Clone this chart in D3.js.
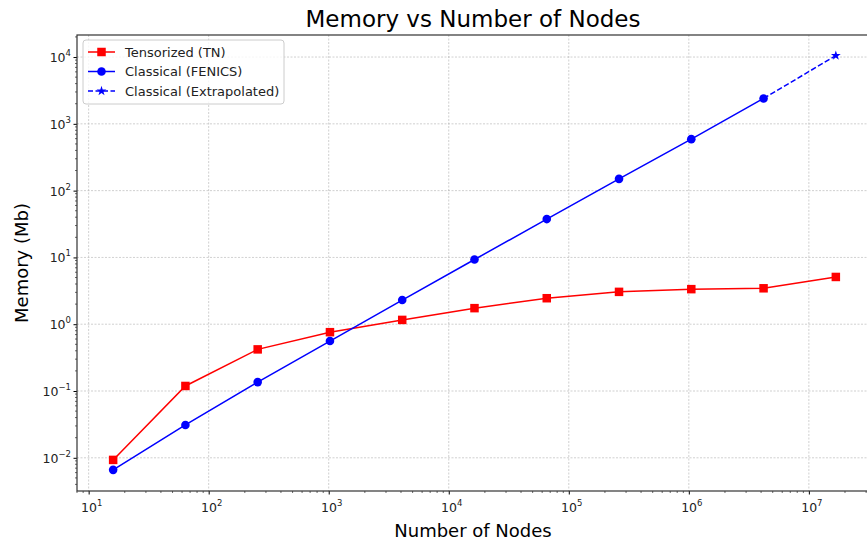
<!DOCTYPE html>
<html>
<head>
<meta charset="utf-8">
<script src="https://cdn.jsdelivr.net/npm/d3@7"></script>
<style>
  body { margin: 0; background: #fff; }
  svg { font-family: "DejaVu Sans", sans-serif; }
</style>
</head>
<body>
<div id="chart"></div>
<script>
// data
var nodes = [16, 64, 256, 1024, 4096, 16384, 65536, 262144, 1048576, 4194304, 16777216];
var tensorMem = [0.0093, 0.119, 0.42, 0.76, 1.16, 1.74, 2.45, 3.05, 3.35, 3.45, 5.1];
var classicalNodes = [16, 64, 256, 1024, 4096, 16384, 65536, 262144, 1048576, 4194304];
var classicalMem = [0.0066, 0.031, 0.136, 0.56, 2.3, 9.3, 37.5, 150, 590, 2400];
var extrapNodes = [4194304, 16777216];
var extrapMem = [2400, 10500];
var xTicks = [1e1, 1e2, 1e3, 1e4, 1e5, 1e6, 1e7];
var yTicks = [1e-2, 1e-1, 1e0, 1e1, 1e2, 1e3, 1e4];

var W = 867, H = 544;
var plotTop = 35, plotBottom = 491, plotLeft = 77;
var plotRight = 872; // axes run slightly past the picture edge

var svg = d3.select("#chart").append("svg")
    .attr("width", W)
    .attr("height", H);

var x = d3.scaleLog().domain([Math.pow(10, 0.903), Math.pow(10, 7.526)]).range([plotLeft, plotRight]);
var y = d3.scaleLog().domain([Math.pow(10, -2.497), Math.pow(10, 4.33)]).range([plotBottom, plotTop]);

// grid
svg.append("g").selectAll("line")
    .data(xTicks).enter().append("line")
    .attr("x1", function (d) { return x(d); })
    .attr("x2", function (d) { return x(d); })
    .attr("y1", plotTop).attr("y2", plotBottom)
    .style("stroke", "#b0b0b0").style("stroke-width", 0.6)
    .style("stroke-dasharray", "2,1.5");
svg.append("g").selectAll("line")
    .data(yTicks).enter().append("line")
    .attr("y1", function (d) { return y(d); })
    .attr("y2", function (d) { return y(d); })
    .attr("x1", plotLeft).attr("x2", plotRight)
    .style("stroke", "#b0b0b0").style("stroke-width", 0.6)
    .style("stroke-dasharray", "2,1.5");

// minor ticks
var xMinor = [], yMinor = [];
for (var e = 0; e <= 7; e++) for (var m = 2; m <= 9; m++) {
    var v = m * Math.pow(10, e);
    if (v > x.domain()[0] && v < x.domain()[1]) xMinor.push(v);
}
for (var e2 = -3; e2 <= 4; e2++) for (var m2 = 2; m2 <= 9; m2++) {
    var v2 = m2 * Math.pow(10, e2);
    if (v2 > y.domain()[0] && v2 < y.domain()[1]) yMinor.push(v2);
}

var xAxis = d3.axisBottom(x).tickValues(xTicks).tickSize(3.5).tickFormat("");
var yAxis = d3.axisLeft(y).tickValues(yTicks).tickSize(3.5).tickFormat("");

var gx = svg.append("g").attr("transform", "translate(0," + plotBottom + ")").call(xAxis);
var gy = svg.append("g").attr("transform", "translate(" + plotLeft + ",0)").call(yAxis);
gx.select(".domain").remove();
gy.select(".domain").remove();

svg.append("g").selectAll("line").data(xMinor).enter().append("line")
    .attr("x1", function (d) { return x(d); }).attr("x2", function (d) { return x(d); })
    .attr("y1", plotBottom).attr("y2", plotBottom + 2)
    .style("stroke", "#000").style("stroke-width", 0.6);
svg.append("g").selectAll("line").data(yMinor).enter().append("line")
    .attr("y1", function (d) { return y(d); }).attr("y2", function (d) { return y(d); })
    .attr("x1", plotLeft).attr("x2", plotLeft - 2)
    .style("stroke", "#000").style("stroke-width", 0.6);

// tick labels with superscripts
function supLabel(sel, d) {
    var ex = Math.round(Math.log10(d));
    sel.append("tspan").text("10");
    sel.append("tspan").attr("dy", -6).style("font-size", "8.5px").text(ex < 0 ? "\u2212" + (-ex) : ex);
}
xTicks.forEach(function (d) {
    var t = svg.append("text").attr("x", x(d) + 3).attr("y", plotBottom + 21)
        .attr("text-anchor", "middle").style("font-size", "12.5px").style("fill", "#222");
    supLabel(t, d);
});
yTicks.forEach(function (d) {
    var t = svg.append("text").attr("x", plotLeft - 6).attr("y", y(d) + 5)
        .attr("text-anchor", "end").style("font-size", "12.5px").style("fill", "#222");
    supLabel(t, d);
});

// spines
svg.append("rect")
    .attr("x", plotLeft).attr("y", plotTop)
    .attr("width", plotRight - plotLeft).attr("height", plotBottom - plotTop)
    .style("fill", "none").style("stroke", "#333").style("stroke-width", 1.2);

// lines
var line = d3.line()
    .x(function (d) { return x(d[0]); })
    .y(function (d) { return y(d[1]); });

var tensor = nodes.map(function (n, i) { return [n, tensorMem[i]]; });
var classical = classicalNodes.map(function (n, i) { return [n, classicalMem[i]]; });
var extrap = extrapNodes.map(function (n, i) { return [n, extrapMem[i]]; });

svg.append("path").datum(tensor).attr("d", line)
    .style("fill", "none").style("stroke", "#ff0000").style("stroke-width", 1.5);
svg.append("path").datum(classical).attr("d", line)
    .style("fill", "none").style("stroke", "#0000ff").style("stroke-width", 1.5);
svg.append("path").datum(extrap).attr("d", line)
    .style("fill", "none").style("stroke", "#0000ff").style("stroke-width", 1.5)
    .style("stroke-dasharray", "5.5,2.4");

var sq = 8.5;
svg.append("g").selectAll("rect").data(tensor).enter().append("rect")
    .attr("x", function (d) { return x(d[0]) - sq / 2; })
    .attr("y", function (d) { return y(d[1]) - sq / 2; })
    .attr("width", sq).attr("height", sq)
    .style("fill", "#ff0000");
svg.append("g").selectAll("circle").data(classical).enter().append("circle")
    .attr("cx", function (d) { return x(d[0]); })
    .attr("cy", function (d) { return y(d[1]); })
    .attr("r", 4.3)
    .style("fill", "#0000ff");
var star = d3.symbol().type(d3.symbolStar).size(30);
svg.append("g").selectAll("path").data(extrap.slice(1)).enter().append("path")
    .attr("d", star)
    .attr("transform", function (d) { return "translate(" + x(d[0]) + "," + y(d[1]) + ")"; })
    .style("fill", "#0000ff");

// title and axis labels
svg.append("text").attr("x", 473).attr("y", 27).attr("text-anchor", "middle")
    .style("font-size", "23px").text("Memory vs Number of Nodes");
svg.append("text").attr("x", 473).attr("y", 537).attr("text-anchor", "middle")
    .style("font-size", "18px").text("Number of Nodes");
svg.append("text").attr("transform", "translate(28," + ((plotTop + plotBottom) / 2) + ") rotate(-90)")
    .attr("text-anchor", "middle").style("font-size", "18px").text("Memory (Mb)");

// legend
var legend = svg.append("g").attr("transform", "translate(83,40)");
legend.append("rect").attr("width", 201).attr("height", 64).attr("rx", 3)
    .style("fill", "#fff").style("fill-opacity", 0.8)
    .style("stroke", "#ccc").style("stroke-width", 1);

var items = [
    { label: "Tensorized (TN)", color: "#ff0000", mark: "square", dash: null },
    { label: "Classical (FENICS)", color: "#0000ff", mark: "circle", dash: null },
    { label: "Classical (Extrapolated)", color: "#0000ff", mark: "star", dash: "5,2.5" }
];
items.forEach(function (it, i) {
    var yy = 12 + i * 19.5;
    var g = legend.append("g").attr("transform", "translate(0," + yy + ")");
    g.append("line").attr("x1", 5).attr("x2", 32).attr("y1", 0).attr("y2", 0)
        .style("stroke", it.color).style("stroke-width", 1.5)
        .style("stroke-dasharray", it.dash);
    if (it.mark === "square") {
        g.append("rect").attr("x", 18.5 - sq / 2).attr("y", -sq / 2).attr("width", sq).attr("height", sq)
            .style("fill", it.color);
    } else if (it.mark === "circle") {
        g.append("circle").attr("cx", 18.5).attr("cy", 0).attr("r", 4.3).style("fill", it.color);
    } else {
        g.append("path").attr("d", star).attr("transform", "translate(18.5,0)").style("fill", it.color);
    }
    g.append("text").attr("x", 42).attr("y", 4.5).style("font-size", "13px").style("fill", "#222")
        .text(it.label);
});
</script>
</body>
</html>
